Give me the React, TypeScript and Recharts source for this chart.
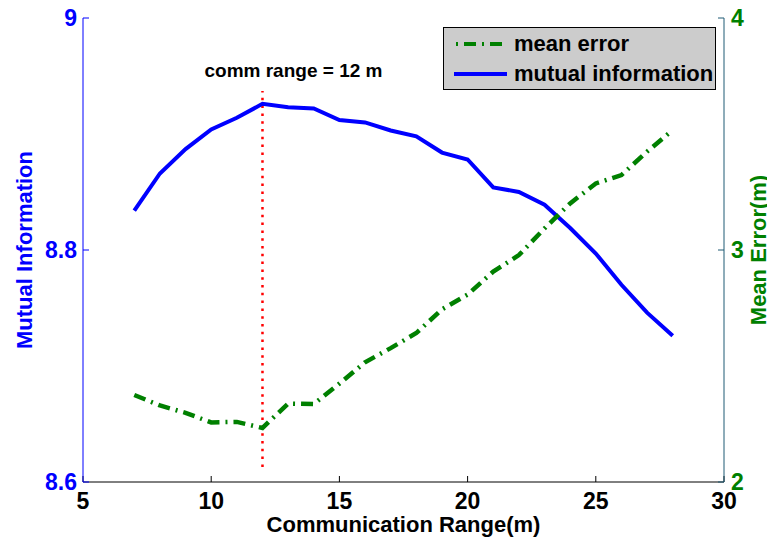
import React from 'react';
import { Legend, Line, LineChart, ReferenceLine, XAxis, YAxis } from 'recharts';

// communication range (m)
const ranges = [7, 8, 9, 10, 11, 12, 13, 14, 15, 16, 17, 18, 19, 20, 21, 22, 23, 24, 25, 26, 27, 28];
// mutual information, left axis
const mutualInfo = [
  8.834, 8.866, 8.887, 8.904, 8.914, 8.926, 8.923, 8.922, 8.912, 8.910, 8.903,
  8.898, 8.884, 8.878, 8.854, 8.850, 8.839, 8.819, 8.797, 8.770, 8.746, 8.726,
];
// mean error (m), right axis
const meanError = [
  2.375, 2.330, 2.298, 2.257, 2.259, 2.233, 2.338, 2.336, 2.424, 2.516, 2.577,
  2.642, 2.744, 2.808, 2.907, 2.978, 3.093, 3.201, 3.287, 3.323, 3.424, 3.517,
];

const xTicks = [5, 10, 15, 20, 25, 30];
const leftTicks = [8.6, 8.8, 9];
const rightTicks = [2, 3, 4];
const commRange = 12;
const markerSpan = [8.613, 8.937];
const legendOrder = ['me', 'mi'];

const data = ranges.map((r, i) => ({ range: r, mi: mutualInfo[i], me: meanError[i] }));

const FONT = '"Liberation Sans", Arial, Helvetica, sans-serif';
const BLUE = '#0000ff';
const GREEN = '#008000';
const RIGHT_AXIS = '#1f5a74';

const seriesLook: Record<string, { stroke: string; dash?: string }> = {
  me: { stroke: GREEN, dash: '12 6 2 6' },
  mi: { stroke: BLUE },
};

const makeTick = (fill: string, anchor: 'start' | 'middle' | 'end') => (props: any) => (
  <text x={props.x} y={props.y} dy={anchor === 'middle' ? '0.71em' : '0.36em'} textAnchor={anchor} fill={fill}
    fontSize={23} fontWeight="bold" fontFamily={FONT}>
    {props.payload.value}
  </text>
);

const XTitle = ({ viewBox }: any) => (
  <text x={viewBox.x + viewBox.width / 2} y={viewBox.y + viewBox.height - 5} textAnchor="middle"
    fill="#000" fontSize={22} fontWeight="bold" fontFamily={FONT}>
    Communication Range(m)
  </text>
);

const YTitle = ({ viewBox, text, fill, dx }: any) => {
  const cx = viewBox.x + dx;
  const cy = viewBox.y + viewBox.height / 2;
  return (
    <text x={cx} y={cy} transform={`rotate(-90 ${cx} ${cy})`} textAnchor="middle" dy="0.36em"
      fill={fill} fontSize={22} fontWeight="bold" fontFamily={FONT}>
      {text}
    </text>
  );
};

const MarkerLabel = ({ viewBox }: any) => (
  <text x={viewBox.x + 31} y={viewBox.y - 14} textAnchor="middle" fill="#000" fontSize={19}
    fontWeight="bold" fontFamily={FONT}>
    comm range = {commRange} m
  </text>
);

const LegendBox = ({ payload }: any) => {
  const items = [...(payload || [])].sort(
    (a: any, b: any) => legendOrder.indexOf(a.dataKey) - legendOrder.indexOf(b.dataKey),
  );
  return (
    <div style={{ width: 271, height: 61, background: '#cccccc', border: '1px solid #000', fontFamily: FONT }}>
      {items.map((item: any) => {
        const look = seriesLook[item.dataKey] || { stroke: item.color };
        return (
          <div key={item.dataKey} style={{ display: 'flex', alignItems: 'center', height: 29, marginTop: 1 }}>
            <svg width={60} height={10} style={{ marginLeft: 10 }}>
              <line x1={0} y1={5} x2={53} y2={5} stroke={look.stroke} strokeWidth={4}
                strokeDasharray={look.dash} strokeDashoffset={look.dash ? 16 : 0} />
            </svg>
            <span style={{ fontSize: 22, fontWeight: 'bold', color: '#000', lineHeight: '29px' }}>
              {item.value}
            </span>
          </div>
        );
      })}
    </div>
  );
};

export default function App() {
  return (
    <div style={{ margin: -8, width: 775, height: 545, overflow: 'hidden' }}>
      <LineChart width={775} height={545} data={data} margin={{ top: 18, right: 0, bottom: 8, left: 13 }}
        style={{ fontFamily: FONT }}>
        <XAxis xAxisId="bottom" dataKey="range" type="number" domain={[5, 30]} ticks={xTicks} height={55}
          stroke="#000" tickSize={-6} tickMargin={17} tick={makeTick('#000', 'middle')} label={<XTitle />} />
        <XAxis xAxisId="top" orientation="top" dataKey="range" type="number" domain={[5, 30]} ticks={xTicks}
          height={0} stroke="#000" tickSize={-6} tickFormatter={() => ''} />
        <YAxis yAxisId="left" domain={[8.6, 9]} ticks={leftTicks} width={70} stroke={BLUE} tickSize={-6}
          tickMargin={12} tick={makeTick(BLUE, 'end')}
          label={<YTitle text="Mutual Information" fill={BLUE} dx={11} />} />
        <YAxis yAxisId="right" orientation="right" domain={[2, 4]} ticks={rightTicks} width={51}
          stroke={RIGHT_AXIS} tickSize={-6} tickMargin={13} tick={makeTick(GREEN, 'start')}
          label={<YTitle text="Mean Error(m)" fill={GREEN} dx={34} />} />
        <ReferenceLine xAxisId="bottom" yAxisId="left"
          segment={[{ x: commRange, y: markerSpan[0] }, { x: commRange, y: markerSpan[1] }]}
          stroke="#ff0000" strokeWidth={2.5} strokeDasharray="2.5 5.3" label={<MarkerLabel />} />
        <Line xAxisId="bottom" yAxisId="left" dataKey="mi" name="mutual information" stroke={BLUE}
          strokeWidth={4} dot={false} isAnimationActive={false} />
        <Line xAxisId="bottom" yAxisId="right" dataKey="me" name="mean error" stroke={GREEN}
          strokeWidth={4.5} strokeDasharray={seriesLook.me.dash} dot={false} isAnimationActive={false} />
        <Legend layout="vertical" align="center" verticalAlign="middle" content={<LegendBox />}
          wrapperStyle={{ left: 443, top: 27, width: 273, height: 63 }} />
      </LineChart>
    </div>
  );
}
